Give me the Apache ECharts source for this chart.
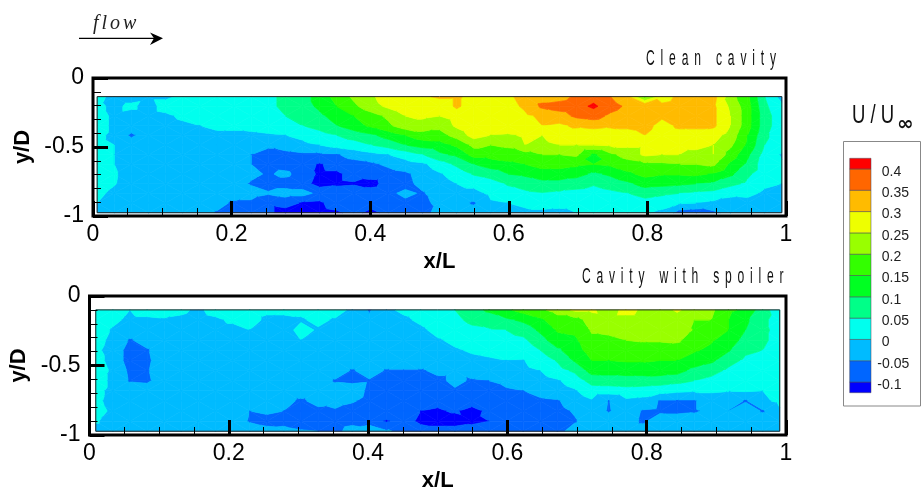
<!DOCTYPE html>
<html><head><meta charset="utf-8">
<style>html,body{margin:0;padding:0;background:#fff}#c{width:922px;height:488px}</style>
<script src="https://cdn.jsdelivr.net/npm/echarts@6/dist/echarts.min.js"></script>
</head><body><div id="c"></div>
<script>
const cleanU = [
[2,-2,-2,-1,-1,1,2,3,3,3,4,6,8,12,17,21,24,28,29,29,31,31,28,28,29,32,33,33,36,38,35,31,18,28,31,32,32,22,16,5,-2],
[1,-1,1,-2,2,2,3,3,3,3,4,6,8,11,15,19,23,26,29,28,26,31,27,27,28,31,36,37,38,41,37,34,35,31,32,33,31,24,17,6,1],
[2,-1,-2,-2,-1,1,2,3,3,3,3,5,6,9,12,15,18,21,25,26,25,27,29,28,27,29,31,33,36,37,34,32,34,31,32,31,31,25,17,7,2],
[2,-1,-2,-2,-2,-1,0,1,1,1.5,2,2.5,5,7,10,13,16,19,23,23,21.5,26,29,27,30,26,30,29,31,32,31,31,32,28,31,31,31,25,17,7,2],
[1,-1,-6,-2,-2,-2,-2,-1,-1,-1,-.5,0,1,3,5,7,9,12,15,18,18,22,27,25,24,26,25,27,27,26,27,28,30,27,28,28,27,23,15,6,2],
[1,0,-2,-2,-2,-2,-2,-2,-2,-2,-4,-2,-1,0,2,3,5,7,10,12,13,16,21.5,20,21,25,24,25,25,25,26,26,26,25.5,26,26,25,21,14,5,2],
[2,0,-2,-2,-2,-2,-2,-2,-2,-5,-7,-7,-6,-6,-5.5,-3,-1.5,0,2,5,9,11,17,17,17.5,18,20,20,21,14,19,22,26,25,25,24,25,18,11,3,-.5],
[3,0,-2,-2,-2,-2,-2,-2,-2,-5,-6.5,-7,-8,-10.5,-8,-7,-6,-4,-2,-1,2.5,6,10,12.5,13.8,15,17,17,16,15,16,18,19,19,20,20,21,14,9,2,.5],
[3,.5,-2,-2,-2,-2,-2,-2,-2,-4,-5.5,-4,-7,-11,-11,-8,-7.5,-7,-6,-3,-.5,2,5.5,7,10,11,12.5,12.5,12,9,11,14,16.5,15.5,15.5,16,14.5,11,6,2,1],
[2,.3,-2,-2,-2,-2,-2,-2,-3,-5.5,-7,-7,-8,-12,-11,-10.5,-12,-7.5,-6.5,-3.5,-2,0,1.3,3,5.5,7,8.5,8.5,7,5.5,7,9,12,11.5,11,10,9,6.5,4,1,0],
[1,-1,-2,-2,-2,-2,-2,-2,-2,-3,-4.5,-3,-3,-6.5,-7,-7,-7,-6,-4,-5.5,-2.5,-1.5,-1.5,1,3,4,4.7,4,3.5,3,4,5,7,6,5,4,3.5,1,1.5,-1,-2],
[0,-2,-2.5,-2.5,-2.5,-3,-2,-3,-6,-6,-9,-8,-10.5,-11,-7,-6,-7,-6.5,-6,-6,-4,-3.5,-5.5,-.5,0,1,2,2,2,1.5,2,2.5,3,2,.5,0,-1,-1.5,-2,-3,-3],
[-1,-2,-2,-2,-2,-1,-2.5,-5.5,-7,-7,-9,-12,-12,-12,-11,-8,-12,-8,-7,-7,-3,-2.5,-3,-1,-.5,-1,-1,-1.5,0,.5,.5,0,.5,-1,-7,-8,-6,-3.5,-3,-3,-3]
];
const spoilerU = [
[2,2,0,2,2,1,-1,2,2,2,1,1,1,2,2,-1,-5.5,-1,1,2,3,5,8,11,14,17,19,22,26,26,22,27,24,22,26,22,21,16,14,7,2],
[3,1,-1,-1,-.5,-1,-2,-1,1,2,-1,-1,-.5,1,-.5,-2,-4,-2,-1,1,3,4,6,7,9,11,14,18,18,22,23,23,23,22,22,20,20,15,11,6,3],
[2,-.5,-2,-2,-2,-2,-2,-2,-2,0,-2,-2,1.5,-.5,-2,-2,-2,-2,-2,-1,1.5,2.5,4,4.5,5,7,11,15.5,16,20.5,21,22,22,23,24,19.5,17,15,10,6,3.5],
[2,-1.5,-5.5,-3,-2,-2,-2,-2,-2,-2,-2,-2,0,-1,-2,-2,-2,-2,-2,-2,-.5,1,2,2.5,3,4,8,13,14,19,19,20,20.5,20.5,21,17,15.5,13,8,6,3],
[1,-2,-7,-5.5,-2,-2,-2,-2,-2,-2,-2,-2,-2,-2,-2,-2,-2,-2,-2,-2,-2,-.5,.5,1,1.5,1.5,5,9,13,17,17,17.5,17.5,17.5,17,15.5,14,10.5,6,5,2],
[2,-2,-7,-6,-2,-2,-2,-2,-2,-2,-2,-2,-2,-2,-2,-2,-2,-2,-2,-2,-2.5,-2,-1,-.5,0,-.2,2,5.5,10.5,15,15,15.5,15.5,15,15,13,11,7,4,3,1],
[3,-1,-6,-5.5,-2,-2,-2,-2,-2,-2,-2,-2,-2,-2,-2,-5.5,-2.5,-5.5,-5.5,-5.5,-4,-4,-3,-2.5,-1,-1,0,3,6,12,12,12,12,12.5,12,8.5,7,4,3,1.5,1],
[2,-1,-5.5,-6,-2,-2,-2,-2,-2,-2,-2,-2,-2,-2,-5.5,-6,-5.5,-7,-7,-7,-6,-4,-5.5,-5,-4,-3,-2,-.5,2,7,7.5,8,8,7.5,6.5,5,3.5,2,2,1,.5],
[1,-1,-2,-2,-2,-2,-2,-2,-2,-2,-2,-2,-2,-2,-3,-2.5,-6,-7,-7,-7,-7,-5.5,-7,-7,-5.5,-5,-3,-2,-.5,2.5,2.5,3,2.5,2,1,.5,.5,.2,.5,0,.2],
[1,-1.5,-2,-2,-2,-2,-2,-2,-2,-2,-1,-3,-6,-3,-3.5,-4.5,-6.5,-7,-8,-8,-9,-8,-8,-8,-7,-6.5,-6,-5.5,-2.5,-.5,-5.2,-1,-1.5,-5.5,-5.5,-5.5,-2,-2,-5.5,-1,1],
[2,-1,-2,-2,-2,-2,-2,-2,-2,-5,-4,-5,-7,-6.5,-5.5,-7,-7,-7,-7.5,-10,-10.5,-9.5,-11.5,-9,-8,-7.5,-7,-6.5,-4.5,-2,-5.5,-2,-5.5,-6,-6,-5.5,-4,-5,-2,-5.5,-.5],
[.5,-2,-2,-2,-2,-2,-2,-2,-2,-5.5,-7,-6.5,-8,-7.5,-7.5,-6.5,-7.5,-10.5,-8,-11,-12,-12,-11,-10,-8,-8,-7.5,-7,-5.5,-2,-2,-2,-6,-2,-2.5,-3,-2,-2,-2,-2,-2],
[-2,-2,-1,-2,-2,-2,-2,-2,-2,-2,-3,-3.5,-4.5,-5,-6.5,-3,-1.5,-4.5,-6,-8,-8,-8,-8,-7,-7,-7,-7,-6.5,-3,-2,-2,-2,-2,-2,-2,-2,-2,-2,-2,-2,-2]
];
const cleanExtent = [0.006, 0.994, -0.135, -0.976];
const spoilerExtent = [0.009, 0.991, -0.10, -0.973];
const levels = [-10,-5,0,5,10,15,20,25,30,35,40];
const bandColors = ['#0000ff','#0066ff','#00bbff','#00ffee','#00ff88','#00ff22','#33ff00','#99ff00','#eeff00','#ffbb00','#ff6600','#ff0000'];
const legendTicks = ['-0.1','-0.05','0','0.05','0.1','0.15','0.2','0.25','0.3','0.35','0.4'];
const panelTitles = ['Clean cavity','Cavity with spoiler'];

// Letter-spaced captions: canvas text spacing for these strings only
const spaced = {'Clean cavity':'10.6px','Cavity with spoiler':'10.5px','flow':'3px'};
const ft = CanvasRenderingContext2D.prototype.fillText;
CanvasRenderingContext2D.prototype.fillText = function(t,x,y){
  if (spaced[t]) { this.save(); this.letterSpacing=spaced[t]; ft.call(this,t,x,y); this.restore(); }
  else ft.call(this,t,x,y);
};

function clip(poly, lim, keepAbove){
  const out=[];
  for(let i=0;i<poly.length;i++){
    const a=poly[i], b=poly[(i+1)%poly.length];
    const ia = keepAbove ? a[2]>=lim : a[2]<=lim;
    const ib = keepAbove ? b[2]>=lim : b[2]<=lim;
    if(ia) out.push(a);
    if(ia!==ib){ const t=(lim-a[2])/(b[2]-a[2]); out.push([a[0]+t*(b[0]-a[0]),a[1]+t*(b[1]-a[1]),lim]); }
  }
  return out;
}
function contourPieces(rows, ext){
  const nr=rows.length, nc=rows[0].length, pieces=[];
  const node=(r,c)=>[ext[0]+(ext[1]-ext[0])*c/(nc-1), ext[2]+(ext[3]-ext[2])*r/(nr-1), rows[r][c]];
  for(let r=0;r<nr-1;r++) for(let c=0;c<nc-1;c++){
    const A=node(r,c),B=node(r,c+1),C=node(r+1,c+1),D=node(r+1,c);
    const tris=(r+c)%2?[[A,B,C],[A,C,D]]:[[A,B,D],[B,C,D]];
    tris.forEach(tri=>{
      for(let k=0;k<bandColors.length;k++){
        let p=tri;
        if(k>0) p=clip(p,levels[k-1],true);
        if(p.length>=3&&k<levels.length) p=clip(p,levels[k],false);
        if(p.length>=3) pieces.push({pts:p,k});
      }
    });
  }
  return pieces;
}
function contourSeries(rows, ext, idx){
  const pieces=contourPieces(rows,ext);
  const outline=[[ext[0],ext[2]],[ext[1],ext[2]],[ext[1],ext[3]],[ext[0],ext[3]]];
  return [{
    type:'custom',xAxisIndex:idx,yAxisIndex:idx,coordinateSystem:'cartesian2d',silent:true,animation:false,z:2,clip:false,progressive:0,
    data:pieces.map(p=>[p.pts[0][0],p.pts[0][1]]),
    encode:{x:0,y:1},
    renderItem:(params,api)=>{
      const p=pieces[params.dataIndex], col=bandColors[p.k];
      return {type:'polygon',shape:{points:p.pts.map(q=>api.coord([q[0],q[1]]))},style:{fill:col,stroke:col,lineWidth:0.7}};
    }
  },{
    type:'custom',xAxisIndex:idx,yAxisIndex:idx,coordinateSystem:'cartesian2d',silent:true,animation:false,z:3,clip:false,
    data:[[ext[0],ext[2]]],encode:{x:0,y:1},
    renderItem:(params,api)=>({type:'polygon',shape:{points:outline.map(q=>api.coord(q))},style:{fill:'none',stroke:'#222',lineWidth:1}})
  }];
}
const tickFont={color:'#000',fontFamily:'Liberation Sans',fontSize:23};
const nameFont={color:'#000',fontFamily:'Liberation Sans',fontSize:22,fontWeight:'bold'};
function xAxis(i){return {gridIndex:i,type:'value',position:'bottom',min:0,max:1,interval:0.2,z:10,name:'x/L',nameLocation:'middle',nameGap:35,nameTextStyle:nameFont,
  axisLine:{show:false,onZero:false},axisTick:{show:true,inside:true,length:15,lineStyle:{color:'#000',width:3}},
  minorTick:{show:true,splitNumber:4,length:8,lineStyle:{color:'#000',width:1}},
  splitLine:{show:false},minorSplitLine:{show:false},axisLabel:{...tickFont,margin:7,hideOverlap:false,showMinLabel:true,showMaxLabel:true,alignMinLabel:'center',alignMaxLabel:'center'}};}
function yAxis(i){return {gridIndex:i,type:'value',position:'left',min:-1,max:0,interval:0.5,z:10,name:'y/D',nameLocation:'middle',nameGap:51,nameRotate:90,nameTextStyle:nameFont,
  axisLine:{show:false,onZero:false},axisTick:{show:true,inside:true,length:15,lineStyle:{color:'#000',width:3}},
  minorTick:{show:true,splitNumber:5,length:8,lineStyle:{color:'#000',width:1}},
  splitLine:{show:false},minorSplitLine:{show:false},axisLabel:{...tickFont,margin:9,showMinLabel:true,showMaxLabel:true,verticalAlignMinLabel:'middle',verticalAlignMaxLabel:'middle'}};}

const bands=bandColors.map((c,k)=>[k>0?levels[k-1]:-12.5,k<levels.length?levels[k]:42.5,k]);
const chart=echarts.init(document.getElementById('c'),null,{renderer:'canvas'});
chart.setOption({
  backgroundColor:'#fff',animation:false,
  grid:[
    {left:93,top:78,width:693,height:138,show:true,backgroundColor:'#fff',borderColor:'#000',borderWidth:3,outerBoundsMode:'none'},
    {left:89.5,top:296,width:696.5,height:139,show:true,backgroundColor:'#fff',borderColor:'#000',borderWidth:3,outerBoundsMode:'none'},
    {left:849.7,top:158.3,width:21.3,height:234.4,show:false,outerBoundsMode:'none'}
  ],
  xAxis:[xAxis(0),xAxis(1),{gridIndex:2,type:'value',min:0,max:1,show:false}],
  yAxis:[yAxis(0),yAxis(1),{gridIndex:2,type:'value',min:-12.5,max:42.5,show:false}],
  series:[
    ...contourSeries(cleanU,cleanExtent,0),
    ...contourSeries(spoilerU,spoilerExtent,1),
    {type:'custom',xAxisIndex:2,yAxisIndex:2,silent:true,animation:false,z:4,clip:false,
     data:bands,encode:{y:[0,1]},
     renderItem:(params,api)=>{
       const lo=api.value(0),hi=api.value(1),k=api.value(2);
       const a=api.coord([0,lo]),b=api.coord([1,hi]);
       return {type:'rect',shape:{x:a[0],y:b[1],width:b[0]-a[0],height:a[1]-b[1]},style:{fill:bandColors[k],stroke:'#445',lineWidth:0.5}};
     }},
    {type:'custom',xAxisIndex:2,yAxisIndex:2,silent:true,animation:false,z:5,clip:false,
     data:levels.map((v,i)=>[v,i]),encode:{y:0},
     renderItem:(params,api)=>{
       const v=api.value(0),t=legendTicks[api.value(1)],p=api.coord([1,v]);
       return {type:'text',style:{text:t,x:p[0]+(v<0?6.3:10.7),y:p[1]+3,font:'14px "Liberation Sans"',fill:'#222',align:'left',verticalAlign:'middle'}};
     }}
  ],
  graphic:[
    {type:'rect',z:1,silent:true,shape:{x:843.5,y:141.5,width:77,height:264.5},style:{fill:'#fff',stroke:'#888',lineWidth:1}},
    {type:'text',x:646,y:59,scaleX:0.55,silent:true,style:{text:panelTitles[0],font:'22px "Liberation Sans"',fill:'#111',align:'left',verticalAlign:'middle'}},
    {type:'text',x:582,y:277,scaleX:0.55,silent:true,style:{text:panelTitles[1],font:'22px "Liberation Sans"',fill:'#111',align:'left',verticalAlign:'middle'}},
    {type:'text',x:852,y:116,scaleX:0.74,silent:true,style:{text:'U / U',font:'25px "Liberation Sans"',fill:'#111',align:'left',verticalAlign:'middle'}},
    {type:'text',x:897,y:125,silent:true,style:{text:'∞',font:'bold 20px "DejaVu Sans"',fill:'#111',align:'left',verticalAlign:'middle'}},
    {type:'text',x:93,y:24,silent:true,style:{text:'flow',font:'italic 20px "Liberation Serif"',fill:'#222',align:'left',verticalAlign:'middle'}},
    {type:'line',silent:true,shape:{x1:79,y1:38.3,x2:157,y2:38.3},style:{stroke:'#000',lineWidth:1.2}},
    {type:'polygon',silent:true,shape:{points:[[150,32.5],[163,38.3],[150,45],[154,38.3]]},style:{fill:'#000'}}
  ]
});
</script></body></html>
